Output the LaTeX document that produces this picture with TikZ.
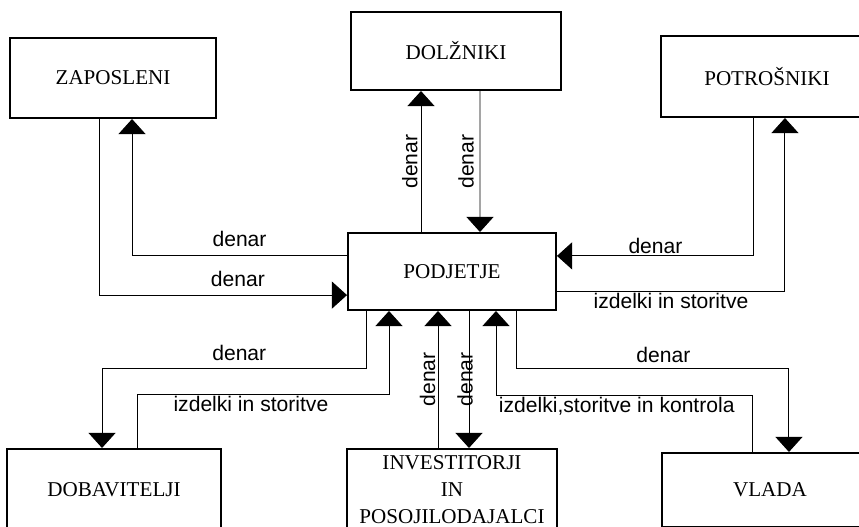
\documentclass[tikz,border=0pt]{standalone}
\usepackage{fontspec}
\setmainfont{Liberation Serif}
\setsansfont{Liberation Sans}
\usepackage{tikz}
\usetikzlibrary{positioning, arrows.meta}

\begin{document}
\begin{tikzpicture}[
    node distance=3cm and 3cm,
    box/.style={rectangle, draw, line width=1.4pt, minimum width=5.25cm, minimum height=1.95cm, align=center, inner sep=0pt, font=\fontsize{15}{19.2}\selectfont},
    line/.style={draw, line width=0.7pt, -{Triangle[width=0.68cm, length=0.38cm]}, font=\sffamily\fontsize{15}{18}\selectfont}
  ]

  \clip (-11.3,-6.3875) rectangle (10.175,6.7875);

  \node[box, minimum width=5.2cm, minimum height=1.925cm] (podjetje) {PODJETJE};
  \node[box, minimum width=5.15cm, minimum height=2cm, above left=2.825cm and 3.25cm of podjetje] (zaposleni) {ZAPOSLENI};
  \node[box, above=3.525cm of podjetje, xshift=0.1cm] (dolzniki) {DOLŽNIKI};
  \node[box, minimum width=5.3cm, minimum height=2.025cm, above right=2.85cm and 2.575cm of podjetje] (potrosniki) {POTROŠNIKI};
  \node[box, minimum width=5.35cm, minimum height=2.05cm, below left=3.425cm and 3.125cm of podjetje] (dobavitelji) {DOBAVITELJI};
  \node[box, minimum height=2.05cm, below=3.425cm of podjetje] (investitorji) {INVESTITORJI\\IN\\POSOJILODAJALCI};
  \node[box, minimum width=5.4cm, minimum height=1.85cm, below right=3.525cm and 2.6cm of podjetje] (vlada) {VLADA};

  \draw[line] ([yshift=0.39cm]podjetje.west) -| node[pos=0.25, above=3pt]{denar} ([xshift=0.475cm]zaposleni.south);
  \draw[line] ([xshift=-0.35cm]zaposleni.south) |- node[pos=0.78, above=2pt]{denar} ([yshift=-0.59cm]podjetje.west);
  \draw[line] ([xshift=-0.775cm]podjetje.north) -- node[rotate=90, anchor=south, inner sep=2pt]{denar} ([xshift=-0.875cm]dolzniki.south);
  \draw[line] ([xshift=0.6cm]dolzniki.south) -- node[rotate=90, anchor=south, inner sep=4pt]{denar} ([xshift=0.7cm]podjetje.north);
  \draw[line] ([xshift=-0.325cm]potrosniki.south) |- node[pos=0.75, above=-2pt]{denar} ([yshift=0.39cm]podjetje.east);
  \draw[line] ([yshift=-0.51cm]podjetje.east) -| node[pos=0.25, below=-3pt]{izdelki in storitve} ([xshift=0.45cm]potrosniki.south);
  \draw[line] ([xshift=-2.15cm]podjetje.south) -- ++(0,-1.45) -| node[pos=0.24, above=2pt]{denar} ([xshift=-0.3cm]dobavitelji.north);
  \draw[line] ([xshift=0.575cm]dobavitelji.north) -- ++(0,1.325) -| node[pos=0.226, below=-3pt]{izdelki in storitve} ([xshift=-1.575cm]podjetje.south);
  \draw[line] ([xshift=-0.35cm]investitorji.north) -- node[rotate=90, anchor=south, inner sep=1.5pt]{denar} ([xshift=-0.35cm]podjetje.south);
  \draw[line] ([xshift=0.425cm]podjetje.south) -- node[xshift=-0.1cm, rotate=90]{denar} ([xshift=0.425cm]investitorji.north);
  \draw[line] ([xshift=-0.425cm]vlada.north) -- ++(0,1.4) -| node[pos=0.265, below=-3pt]{izdelki,storitve in kontrola} ([xshift=1.1cm]podjetje.south);
  \draw[line] ([xshift=1.6cm]podjetje.south) -- ++(0,-1.45) -| node[pos=0.27, above=1pt]{denar} ([xshift=0.475cm]vlada.north);

  \end{tikzpicture}
\end{document}
